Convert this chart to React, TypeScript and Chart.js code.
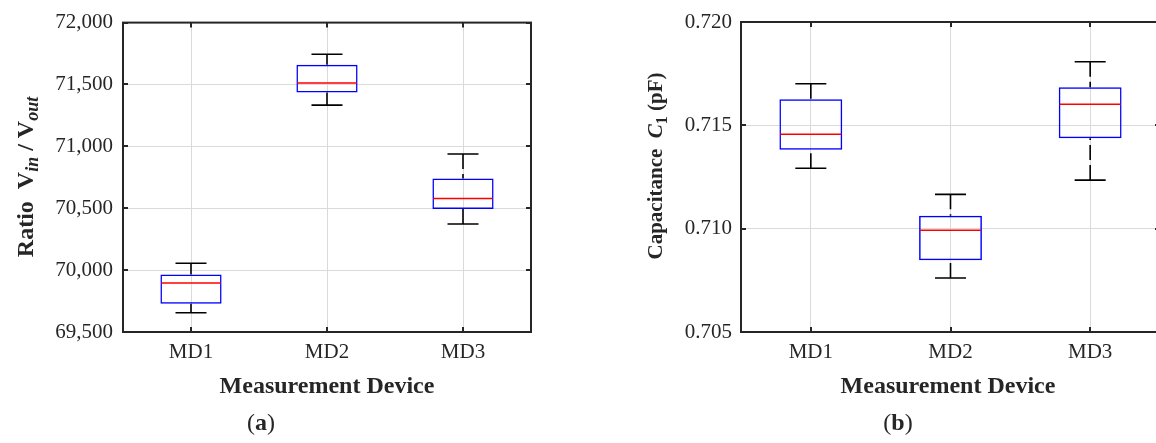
import { useEffect, useRef } from "react";
import { Chart, registerables } from "chart.js";

Chart.register(...registerables);

// Categories shared by both panels
const devices = ["MD1", "MD2", "MD3"];

// Panel (a): voltage ratio Vin / Vout
const ratioWhiskerLow = [69656, 71333, 70373];
const ratioQ1 = [69728, 71435, 70494];
const ratioMedian = [69895, 71511, 70578];
const ratioQ3 = [69965, 71659, 70740];
const ratioWhiskerHigh = [70056, 71744, 70938];
const ratioTicks = [69500, 70000, 70500, 71000, 71500, 72000];

// Panel (b): capacitance C1 in pF
const capWhiskerLow = [0.71292, 0.70761, 0.71235];
const capQ1 = [0.71382, 0.70847, 0.71437];
const capMedian = [0.71457, 0.70992, 0.71602];
const capQ3 = [0.71626, 0.71063, 0.71684];
const capWhiskerHigh = [0.71701, 0.71166, 0.71808];
const capTicks = [0.705, 0.71, 0.715, 0.72];

const SERIF = "'Liberation Serif', 'Times New Roman', serif";
const INK = "#262626";
const GRID = "#dadada";

type Run = { text: string; size: number; bold?: boolean; italic?: boolean; shift?: number };

const fontOf = (r: Run) =>
  `${r.italic ? "italic " : ""}${r.bold ? "bold " : ""}${r.size}px ${SERIF}`;

// Draws a line of mixed-style text centred on (x, y); optionally rotated to read bottom-up.
function drawRuns(ctx: CanvasRenderingContext2D, runs: Run[], x: number, y: number, vertical: boolean) {
  ctx.save();
  ctx.translate(x, y);
  if (vertical) ctx.rotate(-Math.PI / 2);
  const widths = runs.map((r) => {
    ctx.font = fontOf(r);
    return ctx.measureText(r.text).width;
  });
  const total = widths.reduce((a, b) => a + b, 0);
  let cx = -total / 2;
  ctx.fillStyle = INK;
  ctx.textAlign = "left";
  ctx.textBaseline = "alphabetic";
  runs.forEach((r, i) => {
    ctx.font = fontOf(r);
    ctx.fillText(r.text, cx, r.shift || 0);
    cx += widths[i];
  });
  ctx.restore();
}

interface PanelSpec {
  low: number[];
  q1: number[];
  median: number[];
  q3: number[];
  high: number[];
  ticks: number[];
  format: (v: number) => string;
  yTitle: Run[];
  yTitleX: number;
  yTitleY: number;
  xTitleX: number;
  caption: string;
  captionX: number;
  width: number;
  yAxisWidth: number;
  padRight: number;
  tickPad: number;
}

function makeChart(canvas: HTMLCanvasElement, p: PanelSpec) {
  const whiskers = {
    id: "whiskers",
    afterDatasetsDraw(chart: any) {
      const { ctx } = chart;
      const xs = chart.scales.x;
      const ys = chart.scales.y;
      const half = xs.getPixelForValue(1) - xs.getPixelForValue(0);
      const boxHalf = (half * 0.45) / 2;
      const capHalf = 15.5;
      ctx.save();
      devices.forEach((_, i) => {
        const cx = xs.getPixelForValue(i);
        const yLow = ys.getPixelForValue(p.low[i]);
        const yQ1 = ys.getPixelForValue(p.q1[i]);
        const yMed = ys.getPixelForValue(p.median[i]);
        const yQ3 = ys.getPixelForValue(p.q3[i]);
        const yHigh = ys.getPixelForValue(p.high[i]);
        // dashed whisker stems, drawn from each cap towards the box
        ctx.strokeStyle = "#000";
        ctx.lineWidth = 1.6;
        ctx.setLineDash([15, 5]);
        ctx.beginPath();
        ctx.moveTo(cx, yHigh);
        ctx.lineTo(cx, yQ3);
        ctx.moveTo(cx, yLow);
        ctx.lineTo(cx, yQ1);
        ctx.stroke();
        ctx.setLineDash([]);
        // caps
        ctx.beginPath();
        ctx.moveTo(cx - capHalf, yHigh);
        ctx.lineTo(cx + capHalf, yHigh);
        ctx.moveTo(cx - capHalf, yLow);
        ctx.lineTo(cx + capHalf, yLow);
        ctx.stroke();
        // median
        ctx.strokeStyle = "#ff0000";
        ctx.lineWidth = 1.5;
        ctx.beginPath();
        ctx.moveTo(cx - boxHalf + 1, yMed);
        ctx.lineTo(cx + boxHalf - 1, yMed);
        ctx.stroke();
      });
      ctx.restore();
    },
  };

  const frame = {
    id: "frame",
    afterDraw(chart: any) {
      const { ctx, chartArea: a } = chart;
      const xs = chart.scales.x;
      const ys = chart.scales.y;
      ctx.save();
      ctx.strokeStyle = INK;
      ctx.lineWidth = 2;
      ctx.strokeRect(a.left, a.top, a.right - a.left, a.bottom - a.top);
      // inward tick marks on all four sides
      const t = 5;
      ctx.beginPath();
      devices.forEach((_, i) => {
        const x = Math.round(xs.getPixelForValue(i));
        ctx.moveTo(x, a.bottom);
        ctx.lineTo(x, a.bottom - t);
        ctx.moveTo(x, a.top);
        ctx.lineTo(x, a.top + t);
      });
      p.ticks.forEach((v) => {
        const y = Math.round(ys.getPixelForValue(v));
        ctx.moveTo(a.left, y);
        ctx.lineTo(a.left + t, y);
        ctx.moveTo(a.right, y);
        ctx.lineTo(a.right - t, y);
      });
      ctx.stroke();
      ctx.restore();

      // axis titles and panel caption
      drawRuns(ctx, p.yTitle, p.yTitleX, p.yTitleY, true);
      drawRuns(ctx, [{ text: "Measurement Device", size: 24, bold: true }], p.xTitleX, 393, false);
      drawRuns(
        ctx,
        [
          { text: "(", size: 24 },
          { text: p.caption, size: 24, bold: true },
          { text: ")", size: 24 },
        ],
        p.captionX,
        430,
        false
      );
    },
  };

  return new Chart(canvas, {
    type: "bar",
    data: {
      labels: devices,
      datasets: [
        {
          data: devices.map((_, i) => [p.q1[i], p.q3[i]]) as any,
          backgroundColor: "rgba(0,0,0,0)",
          borderColor: "#0000ff",
          borderWidth: 1.5,
          borderSkipped: false,
          barPercentage: 0.45,
          categoryPercentage: 1,
        },
      ],
    },
    options: {
      responsive: false,
      animation: false,
      events: [],
      layout: { padding: { top: 22, right: p.padRight, left: 0, bottom: 0 } },
      plugins: { legend: { display: false }, tooltip: { enabled: false }, title: { display: false } },
      scales: {
        x: {
          grid: { color: GRID, lineWidth: 1, offset: false, drawTicks: false },
          border: { display: false },
          ticks: { color: INK, font: { family: SERIF, size: 21 }, padding: 8 },
          afterFit: (s: any) => {
            s.height = 111;
          },
        },
        y: {
          min: p.ticks[0],
          max: p.ticks[p.ticks.length - 1],
          grid: { color: GRID, lineWidth: 1, drawTicks: false },
          border: { display: false },
          afterBuildTicks: (s: any) => {
            s.ticks = p.ticks.map((v) => ({ value: v }));
          },
          ticks: {
            color: INK,
            font: { family: SERIF, size: 21 },
            padding: p.tickPad,
            callback: (v: any) => p.format(Number(v)),
          },
          afterFit: (s: any) => {
            s.width = p.yAxisWidth;
          },
        },
      },
    },
    plugins: [whiskers, frame],
  });
}

const panelA: PanelSpec = {
  low: ratioWhiskerLow,
  q1: ratioQ1,
  median: ratioMedian,
  q3: ratioQ3,
  high: ratioWhiskerHigh,
  ticks: ratioTicks,
  format: (v) => v.toLocaleString("en-US"),
  yTitle: [
    { text: "Ratio  V", size: 24, bold: true },
    { text: "in", size: 18, bold: true, italic: true, shift: 5 },
    { text: " / V", size: 24, bold: true },
    { text: "out", size: 18, bold: true, italic: true, shift: 5 },
  ],
  yTitleX: 33,
  yTitleY: 177,
  xTitleX: 327,
  caption: "a",
  captionX: 261,
  width: 578,
  yAxisWidth: 123,
  padRight: 47,
  tickPad: 10,
};

const panelB: PanelSpec = {
  low: capWhiskerLow,
  q1: capQ1,
  median: capMedian,
  q3: capQ3,
  high: capWhiskerHigh,
  ticks: capTicks,
  format: (v) => v.toFixed(3),
  yTitle: [
    { text: "Capacitance  ", size: 21, bold: true },
    { text: "C", size: 21, bold: true, italic: true },
    { text: "1", size: 16, bold: true, shift: 5 },
    { text: " (pF)", size: 21, bold: true },
  ],
  yTitleX: 84,
  yTitleY: 166,
  xTitleX: 370,
  caption: "b",
  captionX: 320,
  width: 600,
  yAxisWidth: 163,
  padRight: 18,
  tickPad: 9,
};

function Panel({ spec, left }: { spec: PanelSpec; left: number }) {
  const ref = useRef<HTMLCanvasElement | null>(null);
  useEffect(() => {
    if (!ref.current) return;
    const chart = makeChart(ref.current, spec);
    return () => chart.destroy();
  }, [spec]);
  return (
    <canvas
      ref={ref}
      width={spec.width}
      height={443}
      style={{ position: "absolute", left, top: 0, width: spec.width, height: 443 }}
    />
  );
}

export default function App() {
  return (
    <div
      style={{
        position: "fixed",
        left: 0,
        top: 0,
        width: 1156,
        height: 443,
        overflow: "hidden",
        background: "#fff",
      }}
    >
      <Panel spec={panelA} left={0} />
      <Panel spec={panelB} left={578} />
    </div>
  );
}
